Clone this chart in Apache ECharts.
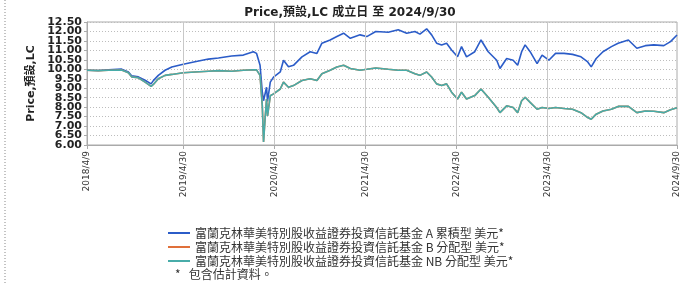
<!DOCTYPE html>
<html>
<head>
<meta charset="utf-8">
<script src="https://cdn.jsdelivr.net/npm/echarts@6/dist/echarts.min.js"></script>
<style>
  html, body { margin: 0; padding: 0; background: #fff; }
  #chart { width: 695px; height: 284px; }
</style>
</head>
<body>
<div id="chart"></div>
<script>
// Values
const dates = [
  '2018-04-09', '2018-05-24', '2018-07-04', '2018-08-26', '2018-09-22', '2018-10-05',
  '2018-11-01', '2018-11-28', '2018-12-22', '2018-12-31', '2019-01-20', '2019-02-16',
  '2019-03-15', '2019-04-30', '2019-06-16', '2019-08-09', '2019-09-18', '2019-11-10',
  '2019-12-27', '2020-02-05', '2020-02-18', '2020-03-03', '2020-03-12', '2020-03-17',
  '2020-03-23', '2020-03-29', '2020-04-02', '2020-04-13', '2020-04-26', '2020-05-23',
  '2020-06-05', '2020-06-25', '2020-07-15', '2020-08-18', '2020-09-20', '2020-10-17',
  '2020-11-06', '2020-12-09', '2021-01-05', '2021-02-01', '2021-02-28', '2021-04-08',
  '2021-05-05', '2021-06-10', '2021-07-30', '2021-09-08', '2021-10-12', '2021-11-14',
  '2021-12-04', '2021-12-31', '2022-01-20', '2022-02-09', '2022-03-01', '2022-03-21',
  '2022-04-10', '2022-05-04', '2022-05-20', '2022-06-09', '2022-07-12', '2022-08-06',
  '2022-09-04', '2022-10-08', '2022-10-21', '2022-11-17', '2022-12-13', '2022-12-31',
  '2023-01-16', '2023-01-30', '2023-02-19', '2023-03-19', '2023-04-08', '2023-05-05',
  '2023-06-01', '2023-07-05', '2023-08-08', '2023-09-11', '2023-10-08', '2023-10-22',
  '2023-11-11', '2023-12-08', '2024-01-11', '2024-02-07', '2024-03-19', '2024-04-22',
  '2024-05-26', '2024-06-29', '2024-08-08', '2024-09-04', '2024-09-30'
];

const classA = [
  9.95, 9.94, 9.97, 10.01, 9.86, 9.66,
  9.60, 9.42, 9.23, 9.40, 9.68, 9.95,
  10.12, 10.27, 10.40, 10.54, 10.60, 10.70,
  10.75, 10.93, 10.84, 10.21, 8.79, 8.34,
  8.43, 9.05, 8.30, 9.32, 9.59, 9.86,
  10.48, 10.13, 10.21, 10.66, 10.93, 10.84,
  11.38, 11.55, 11.73, 11.91, 11.64, 11.82,
  11.73, 12.00, 11.96, 12.09, 11.91, 12.00,
  11.86, 12.14, 11.82, 11.38, 11.29, 11.38,
  11.02, 10.66, 11.20, 10.66, 10.93, 11.55,
  10.93, 10.48, 10.04, 10.57, 10.48, 10.21,
  10.93, 11.29, 10.93, 10.30, 10.75, 10.48,
  10.84, 10.84, 10.79, 10.66, 10.39, 10.13,
  10.57, 10.93, 11.20, 11.38, 11.55, 11.11,
  11.25, 11.29, 11.25, 11.46, 11.81
];

const classNB = [
  9.95, 9.93, 9.95, 9.96, 9.82, 9.60,
  9.55, 9.32, 9.10, 9.20, 9.50, 9.68,
  9.73, 9.82, 9.86, 9.90, 9.93, 9.90,
  9.95, 9.98, 9.97, 9.68, 8.07, 6.16,
  7.36, 8.43, 7.54, 8.60, 8.70, 8.96,
  9.32, 9.05, 9.14, 9.41, 9.50, 9.41,
  9.77, 9.95, 10.12, 10.21, 10.04, 9.95,
  10.00, 10.07, 10.00, 9.95, 9.95, 9.77,
  9.68, 9.86, 9.59, 9.23, 9.14, 9.23,
  8.79, 8.43, 8.79, 8.43, 8.61, 8.96,
  8.52, 7.98, 7.71, 8.07, 7.98, 7.71,
  8.34, 8.52, 8.25, 7.89, 7.98, 7.93,
  7.98, 7.93, 7.89, 7.71, 7.45, 7.36,
  7.63, 7.80, 7.89, 8.04, 8.04, 7.71,
  7.80, 7.78, 7.71, 7.86, 7.97
];

// class B sits right under class NB in the picture
const classB = classNB.slice();

const xTickDates = ['2018-04-09', '2019-04-30', '2020-04-30', '2021-04-30', '2022-04-30', '2023-04-30', '2024-09-30'];
// y labels split over two overlaid axes so ECharts doesn't drop crowded ones
const yTicksWhole = [6, 7, 8, 9, 10, 11, 12];
const yTicksHalf = [6.5, 7.5, 8.5, 9.5, 10.5, 11.5, 12.5];

const seriesNames = [
  '富蘭克林華美特別股收益證券投資信託基金 A 累積型 美元*',
  '富蘭克林華美特別股收益證券投資信託基金 B 分配型 美元*',
  '富蘭克林華美特別股收益證券投資信託基金 NB 分配型 美元*'
];
const seriesColors = ['#2b5cc8', '#e0703a', '#48aca9'];

const toTime = (s) => {
  const [y, m, d] = s.split('-').map(Number);
  return new Date(y, m - 1, d).getTime();
};
const fmtDate = (v) => {
  const d = new Date(v);
  return d.getFullYear() + '/' + (d.getMonth() + 1) + '/' + d.getDate();
};
const pairs = (values) => dates.map((d, i) => [toTime(d), values[i]]);

const tickTimes = xTickDates.map(toTime);

const chart = echarts.init(document.getElementById('chart'));

// one legend per row so the rows sit exactly 14px apart
const legends = seriesNames.map((name, i) => ({
  left: 163,
  top: 222 + i * 14,
  icon: 'rect',
  itemWidth: 22,
  itemHeight: 2,
  itemGap: 0,
  selectedMode: false,
  data: [name],
  textStyle: {
    fontFamily: 'Noto Sans CJK TC',
    fontSize: 12,
    color: '#333'
  }
}));

const labelAxis = (values) => ({
  type: 'value',
  position: 'left',
  min: 6,
  max: 12.5,
  axisLine: { show: false },
  axisTick: { show: false },
  splitLine: { show: false },
  axisLabel: {
    customValues: values,
    showMinLabel: true,
    showMaxLabel: true,
    formatter: (v) => v.toFixed(2),
    fontFamily: 'DejaVu Sans',
    fontSize: 11,
    fontWeight: 'bold',
    color: '#222',
    margin: 5
  }
});

const option = {
  animation: false,
  backgroundColor: '#fff',
  title: {
    text: 'Price,預設,LC 成立日 至 2024/9/30',
    left: 345,
    textAlign: 'center',
    top: 2,
    textStyle: {
      fontFamily: 'DejaVu Sans, Noto Sans CJK TC',
      fontSize: 12,
      fontWeight: 'bold',
      color: '#222'
    }
  },
  legend: legends,
  grid: {
    left: 87,
    right: 18,
    top: 22,
    bottom: 139,
    show: true,
    borderColor: '#aaaaaa',
    borderWidth: 1
  },
  xAxis: {
    type: 'value',
    min: tickTimes[0],
    max: tickTimes[tickTimes.length - 1],
    axisLine: { show: true, lineStyle: { color: '#aaaaaa' } },
    axisTick: { show: true, length: 4, customValues: tickTimes, lineStyle: { color: '#aaaaaa' } },
    axisLabel: {
      customValues: tickTimes,
      rotate: 90,
      margin: 6,
      formatter: fmtDate,
      fontFamily: 'DejaVu Sans',
      fontSize: 9,
      color: '#333'
    },
    splitLine: { show: false }
  },
  yAxis: [
    {
      type: 'value',
      min: 6,
      max: 12.5,
      interval: 0.5,
      name: 'Price,預設,LC',
      nameLocation: 'middle',
      nameGap: 50,
      nameTextStyle: {
        fontFamily: 'DejaVu Sans, Noto Sans CJK TC',
        fontSize: 11,
        fontWeight: 'bold',
        color: '#222'
      },
      axisLine: { show: true, lineStyle: { color: '#aaaaaa' } },
      axisTick: { show: true, length: 3, lineStyle: { color: '#aaaaaa' } },
      axisLabel: { show: false },
      splitLine: { show: true, lineStyle: { color: '#bdbdbd', type: [1, 2], width: 1 } }
    },
    labelAxis(yTicksWhole),
    labelAxis(yTicksHalf)
  ],
  series: [
    {
      name: 'vgrid',
      type: 'line',
      data: [],
      z: 0,
      silent: true,
      markLine: {
        silent: true,
        symbol: 'none',
        label: { show: false },
        lineStyle: { color: '#c8c8c8', type: 'solid', width: 1 },
        data: tickTimes.slice(1, -1).map(t => ({ xAxis: t }))
      }
    },
    {
      name: seriesNames[0],
      type: 'line',
      showSymbol: false,
      symbol: 'none',
      data: pairs(classA),
      lineStyle: { width: 1.6, color: seriesColors[0] },
      itemStyle: { color: seriesColors[0] }
    },
    {
      name: seriesNames[1],
      type: 'line',
      showSymbol: false,
      symbol: 'none',
      data: pairs(classB),
      lineStyle: { width: 1.6, color: seriesColors[1] },
      itemStyle: { color: seriesColors[1] }
    },
    {
      name: seriesNames[2],
      type: 'line',
      showSymbol: false,
      symbol: 'none',
      data: pairs(classNB),
      lineStyle: { width: 1.6, color: seriesColors[2] },
      itemStyle: { color: seriesColors[2] }
    }
  ],
  graphic: [
    {
      type: 'line',
      shape: { x1: 5, y1: 0, x2: 5, y2: 284 },
      style: { stroke: '#888', lineWidth: 1, lineDash: [1, 2] },
      silent: true
    },
    {
      type: 'text',
      left: 175,
      top: 268,
      style: {
        text: '*   包含估計資料。',
        fontFamily: 'Noto Sans CJK TC',
        fontSize: 12,
        fill: '#333'
      },
      silent: true
    }
  ]
};

chart.setOption(option);
</script>
</body>
</html>
